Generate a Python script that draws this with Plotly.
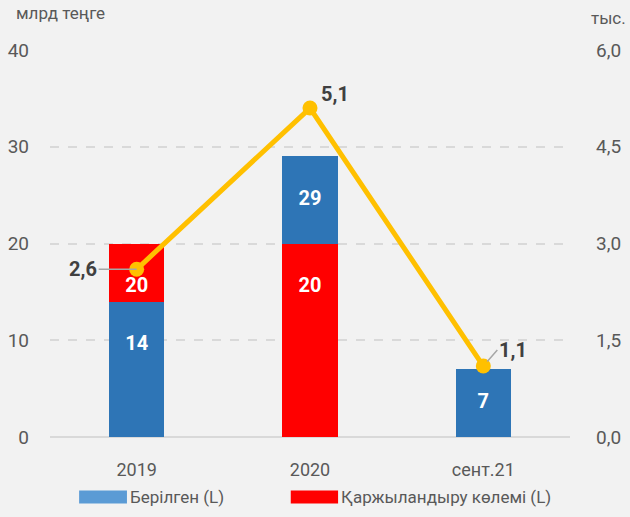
import plotly.graph_objects as go

categories = ["2019", "2020", "сент.21"]
issued = [14, 29, 7]          # Берілген (L)
funding = [20, 20, None]      # Қаржыландыру көлемі (L)
count_k = [2.6, 5.1, 1.1]     # тыс. (R)
left_ticks = [0, 10, 20, 30, 40]
right_ticks = [0, 1.5, 3.0, 4.5, 6.0]
right_tick_labels = ["0,0", "1,5", "3,0", "4,5", "6,0"]

BLUE = "#2E75B6"
BLUE_LEG = "#5B9BD5"
RED = "#FF0000"
GOLD = "#FFC000"
FONT = "Roboto, DejaVu Sans, sans-serif"
GREY = "#595959"

xi = list(range(len(categories)))  # category index positions

fig = go.Figure()

series = [(issued, BLUE), (funding, RED)]
back_y, back_c, front_y, front_c = [], [], [], []
for i in xi:
    vals = [(s[0][i], s[1]) for s in series if s[0][i] is not None]
    vals.sort(key=lambda v: v[0], reverse=True)
    if len(vals) == 2:
        back_y.append(vals[0][0]); back_c.append(vals[0][1])
        front_y.append(vals[1][0]); front_c.append(vals[1][1])
    else:
        back_y.append(None); back_c.append(BLUE)
        front_y.append(vals[0][0]); front_c.append(vals[0][1])

fig.add_trace(go.Bar(x=xi, y=back_y, marker=dict(color=back_c, line=dict(width=0)),
                     width=0.32, showlegend=False, hoverinfo="skip"))
fig.add_trace(go.Bar(x=xi, y=front_y, marker=dict(color=front_c, line=dict(width=0)),
                     width=0.32, showlegend=False, hoverinfo="skip"))

# value labels placed near the top of each bar's visible part
lab_x, lab_y, lab_t = [], [], []
for vals_list, _ in series:
    for i in xi:
        v = vals_list[i]
        if v is None:
            continue
        lab_x.append(i); lab_y.append(max(v / 2, v - 4.5)); lab_t.append(f"<b>{v}</b>")
fig.add_trace(go.Scatter(x=lab_x, y=lab_y, mode="text", text=lab_t,
                         textfont=dict(family=FONT, size=20, color="white"),
                         showlegend=False, hoverinfo="skip"))

fig.add_trace(go.Scatter(x=xi, y=count_k, yaxis="y2", mode="lines+markers",
                         line=dict(color=GOLD, width=5), marker=dict(color=GOLD, size=15),
                         showlegend=False, hoverinfo="skip"))

lbl = lambda v: f"{v:.1f}".replace(".", ",")
ann_font = dict(family=FONT, size=20, color="#404040")
fig.add_annotation(x=xi[0], y=count_k[0], xref="x", yref="y2", text="<b>" + lbl(count_k[0]) + "</b>",
                   showarrow=True, arrowhead=0, arrowwidth=1.5, arrowcolor="#A6A6A6",
                   ax=-38, ay=0, xanchor="right", font=ann_font, standoff=0)
fig.add_annotation(x=xi[1], y=count_k[1], xref="x", yref="y2", text="<b>" + lbl(count_k[1]) + "</b>",
                   showarrow=False, xshift=25, yshift=14, font=ann_font)
fig.add_annotation(x=xi[2], y=count_k[2], xref="x", yref="y2", text="<b>" + lbl(count_k[2]) + "</b>",
                   showarrow=True, arrowhead=0, arrowwidth=1.5, arrowcolor="#A6A6A6",
                   ax=14, ay=-16, xanchor="left", font=ann_font, standoff=6)

fig.add_annotation(x=0, y=1, xref="paper", yref="paper", xshift=-36, yshift=25, text="млрд теңге",
                   showarrow=False, xanchor="left", yanchor="bottom",
                   font=dict(family=FONT, size=17, color=GREY))
fig.add_annotation(x=1, y=1, xref="paper", yref="paper", xshift=38, yshift=20, text="тыс.",
                   showarrow=False, xanchor="center", yanchor="bottom",
                   font=dict(family=FONT, size=17, color=GREY))

legend_items = [("Берілген (L)", BLUE_LEG), ("Қаржыландыру көлемі (L)", RED)]
sw_x0 = [0.056, 0.463]
sw_x1 = [0.148, 0.554]
for (name, col), a, b in zip(legend_items, sw_x0, sw_x1):
    fig.add_shape(type="rect", xref="paper", yref="paper", x0=a, x1=b, y0=-0.138, y1=-0.172,
                  fillcolor=col, line=dict(width=0))
    fig.add_annotation(x=b, y=-0.155, xref="paper", yref="paper", text=name, showarrow=False,
                       xanchor="left", yanchor="middle", xshift=1,
                       font=dict(family=FONT, size=17, color=GREY))

fig.update_layout(
    width=630, height=517,
    paper_bgcolor="#F2F2F2", plot_bgcolor="#F2F2F2",
    margin=dict(l=50, r=60, t=50, b=80),
    barmode="overlay", bargap=0,
    font=dict(family=FONT, size=18, color=GREY),
    showlegend=False,
    xaxis=dict(range=[-0.5, len(categories) - 0.5], tickvals=xi, ticktext=categories, automargin=False,
               showgrid=False, ticks="", showline=False, zeroline=False, ticklabelstandoff=20,
               tickfont=dict(family=FONT, size=18, color=GREY)),
    yaxis=dict(range=[0, 40], tickvals=left_ticks, showgrid=True, gridcolor="#D9D9D9", automargin=False,
               griddash="dash", gridwidth=1.5, zeroline=True, zerolinecolor="#D9D9D9", zerolinewidth=2,
               ticklabelstandoff=20, tickfont=dict(family=FONT, size=19, color=GREY)),
    yaxis2=dict(range=[0, 6], tickvals=right_ticks, ticktext=right_tick_labels, overlaying="y",
                automargin=False, side="right", showgrid=False, zeroline=False, ticklabelstandoff=25,
                tickfont=dict(family=FONT, size=19, color=GREY)),
)

fig.write_html("out.html", config={"displayModeBar": False},
               post_script="document.body.style.margin='0';document.body.style.background='#F2F2F2';")
